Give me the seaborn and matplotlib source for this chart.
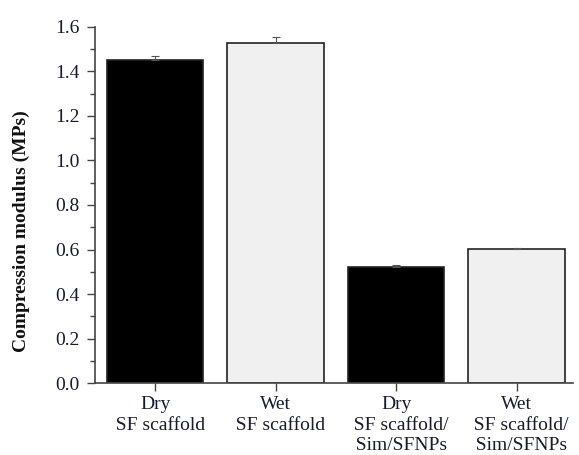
import matplotlib
matplotlib.use("Agg")
import matplotlib.pyplot as plt
from matplotlib.ticker import MultipleLocator
import seaborn as sns
import pandas as pd
import numpy as np

categories = ["Dry\n  SF scaffold", "Wet\n  SF scaffold",
              "Dry\n  SF scaffold/\n  Sim/SFNPs", "Wet\n  SF scaffold/\n  Sim/SFNPs"]
modulus = [1.452, 1.528, 0.521, 0.602]
errors = [0.018, 0.025, 0.008, 0.005]
bar_colors = ["#000000", "#f0f0f0", "#000000", "#f0f0f0"]

sns.set_theme(style="ticks")
plt.rcParams['font.family'] = ['Liberation Serif', 'DejaVu Serif']

df = pd.DataFrame({"cat": categories, "val": modulus})

fig = plt.figure(figsize=(5.79, 4.55), dpi=100)
ax = fig.add_axes([0.164, 0.158, 0.826, 0.783])
sns.barplot(data=df, x="cat", y="val", hue="cat", palette=bar_colors,
            width=0.8, edgecolor="#222222", linewidth=1.2, legend=False,
            errorbar=None, ax=ax, saturation=1)
ax.errorbar(np.arange(len(modulus)), modulus,
            yerr=[np.zeros(len(errors)), errors], fmt="none",
            ecolor="#555555", elinewidth=0.8, capsize=3, capthick=0.8)

ax.set_xlim(-0.5, 3.47)
ax.set_ylim(0, 1.6)
ax.yaxis.set_major_locator(MultipleLocator(0.2))
ax.yaxis.set_minor_locator(MultipleLocator(0.1))
ax.yaxis.set_major_formatter(matplotlib.ticker.FormatStrFormatter('%.1f'))
for s in ["top", "right"]:
    ax.spines[s].set_visible(False)
for s in ["left", "bottom"]:
    ax.spines[s].set_color("#444444")
    ax.spines[s].set_linewidth(1.2)
ax.tick_params(axis="both", which="major", direction="out", length=6,
               width=1, color="#444444", labelsize=14, labelcolor="#1a1a2a")
ax.tick_params(axis="y", which="major", pad=5)
ax.tick_params(axis="y", which="minor", direction="out", length=3.5, width=1,
               color="#444444")
ax.set_xlabel("")
ax.set_ylabel("Compression modulus (MPs)", fontsize=14, fontweight="bold",
              color="#111111")
ax.yaxis.set_label_coords(-0.136, 0.427)
for lbl in ax.get_xticklabels():
    lbl.set_linespacing(1.25)

fig.savefig("out.png", dpi=100)
